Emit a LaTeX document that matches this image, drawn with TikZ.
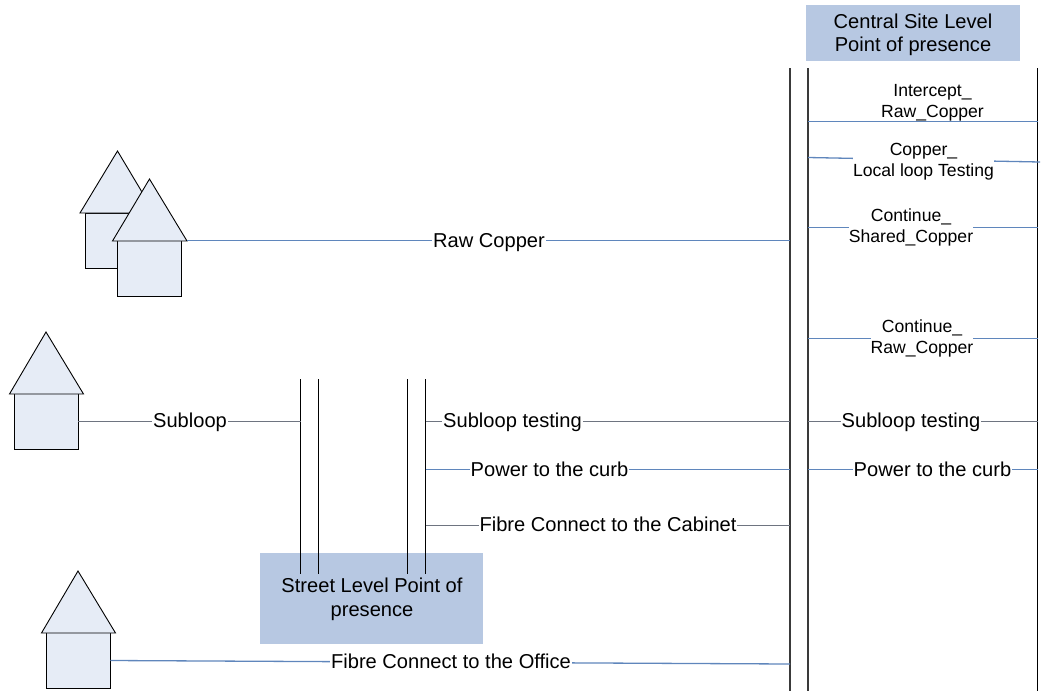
\documentclass[tikz,border=0pt]{standalone}
\usepackage{fontspec}
\setmainfont{Liberation Sans}
\definecolor{boxblue}{HTML}{B7C8E2}
\definecolor{housefill}{HTML}{E6ECF6}
\definecolor{wireblue}{HTML}{5F86BC}
\definecolor{wiregray}{HTML}{6E7480}
\definecolor{vgray}{HTML}{3A3A3A}
\tikzset{
  panel/.style={fill=boxblue,draw=none,align=center,font=\fontsize{20.1}{24}\selectfont,inner sep=0pt,text=black},
  wall/.style={draw=black,fill=housefill,line width=0.9pt,minimum width=64pt,minimum height=55.5pt,inner sep=0pt},
  roof/.style={draw=black,fill=housefill,line width=0.9pt,line join=miter},
  wire/.style={draw=wireblue,line width=1.3pt},
  graywire/.style={draw=wiregray,line width=1pt},
  rail/.style={draw=vgray,line width=1.3pt},
  streetrail/.style={draw=black,line width=1pt},
  biglabel/.style={fill=white,inner xsep=1pt,inner ysep=1pt,font=\fontsize{20.1}{24}\selectfont,text=black},
  smalllabel/.style={fill=white,inner xsep=0pt,inner ysep=0pt,align=center,font=\fontsize{17.6}{21}\selectfont,text=black}
}
\begin{document}
\begin{tikzpicture}[x=1pt,y=-1pt]
\useasboundingbox (0,0) rectangle (1047,691);

% panels
\node[panel,minimum width=214pt,minimum height=56pt] (central) at (913,33) {};
\node[panel,minimum width=223pt,minimum height=91pt] (street) at (371.5,598.5) {};
\node[panel,fill=none,font=\fontsize{20.1}{23}\selectfont] (lcentral) at (913,35) {Central Site Level\\Point of presence};

% rails
\coordinate (c1t) at (790,68); \coordinate (c1b) at (790,691);
\coordinate (c2t) at (808,68); \coordinate (c2b) at (808,691);
\coordinate (c3t) at (1037.5,68); \coordinate (c3b) at (1037.5,691);
\coordinate (s1t) at (300.5,379); \coordinate (s1b) at (300.5,574);
\coordinate (s2t) at (318.5,379); \coordinate (s2b) at (318.5,574);
\coordinate (s3t) at (407.5,379); \coordinate (s3b) at (407.5,574);
\coordinate (s4t) at (425.5,379); \coordinate (s4b) at (425.5,574);
\foreach \r in {c1,c2}{\draw[rail] (\r t) -- (\r b);}
\draw[streetrail] (c3t) -- (c3b);
\foreach \r in {s1,s2,s3,s4}{\draw[streetrail] (\r t) -- (\r b);}

% houses
\node[wall] (wallA) at (117.5,241) {};
\draw[roof] (80,213) -- (117.5,151) -- (154.5,213) -- cycle;
\node[wall] (wallB) at (149.5,268.5) {};
\coordinate (roofB) at (187,240.5);
\draw[roof] (112.5,241) -- (149.5,179) -- (187,241) -- cycle;
\node[wall] (wallC) at (46,421.5) {};
\draw[roof] (9.5,394) -- (46,332) -- (83.5,394) -- cycle;
\node[wall] (wallD) at (78,660.5) {};
\draw[roof] (41.5,633) -- (78,571) -- (115.5,633) -- cycle;

% connector end points
\coordinate (rawR) at (790,240.5);
\coordinate (subR) at (300.5,421.5);
\coordinate (stL) at (425.5,421.5); \coordinate (stR) at (790,421.5);
\coordinate (pwL) at (425.5,469.5); \coordinate (pwR) at (790,469.5);
\coordinate (fcL) at (425.5,525.5); \coordinate (fcR) at (790,525.5);
\coordinate (foR) at (790,664);
\coordinate (iL) at (808,121.5); \coordinate (iR) at (1037.5,121.5);
\coordinate (cL) at (808,157.5); \coordinate (cR) at (1040,162);
\coordinate (sL) at (808,227.5); \coordinate (sR) at (1037.5,227.5);
\coordinate (rL) at (808,338.5); \coordinate (rR) at (1037.5,338.5);
\coordinate (tL) at (808,421.5); \coordinate (tR) at (1037.5,421.5);
\coordinate (qL) at (808,469.5); \coordinate (qR) at (1037.5,469.5);

% connectors
\draw[wire] (roofB) -- (rawR);
\draw[graywire] (wallC.east) -- (subR);
\draw[graywire] (stL) -- (stR);
\draw[wire] (pwL) -- (pwR);
\draw[graywire] (fcL) -- (fcR);
\draw[wire] (wallD.east) -- (foR);
\draw[wire] (iL) -- (iR);
\draw[wire] (cL) -- (cR);
\draw[wire] (sL) -- (sR);
\draw[wire] (rL) -- (rR);
\draw[graywire] (tL) -- (tR);
\draw[wire] (qL) -- (qR);

% labels
\node[biglabel] (lraw) at (489,242.5) {Raw Copper};
\node[biglabel] (lsub) at (190,422) {Subloop};
\node[biglabel] (lst) at (512.5,422.5) {Subloop testing};
\node[biglabel] (lpw) at (549.5,469) {Power to the curb};
\node[biglabel] (lfc) at (608,524.5) {Fibre Connect to the Cabinet};
\node[biglabel] (lfo) at (451,661) {Fibre Connect to the Office};
\node[biglabel] (ltt) at (911,422) {Subloop testing};
\node[biglabel] (lqq) at (932.5,469) {Power to the curb};
\node[smalllabel] (li) at (932.5,103) {Intercept\_\\Raw\_Copper};
\node[smalllabel] (lc) at (923.5,162) {Copper\_\\Local loop Testing};
\node[smalllabel] (ls) at (911,227.5) {Continue\_\\Shared\_Copper};
\node[smalllabel] (lr) at (922,338.5) {Continue\_\\Raw\_Copper};
\node[panel,fill=none] (lstreet) at (372,599) {Street Level Point of\\presence};
\end{tikzpicture}
\end{document}
